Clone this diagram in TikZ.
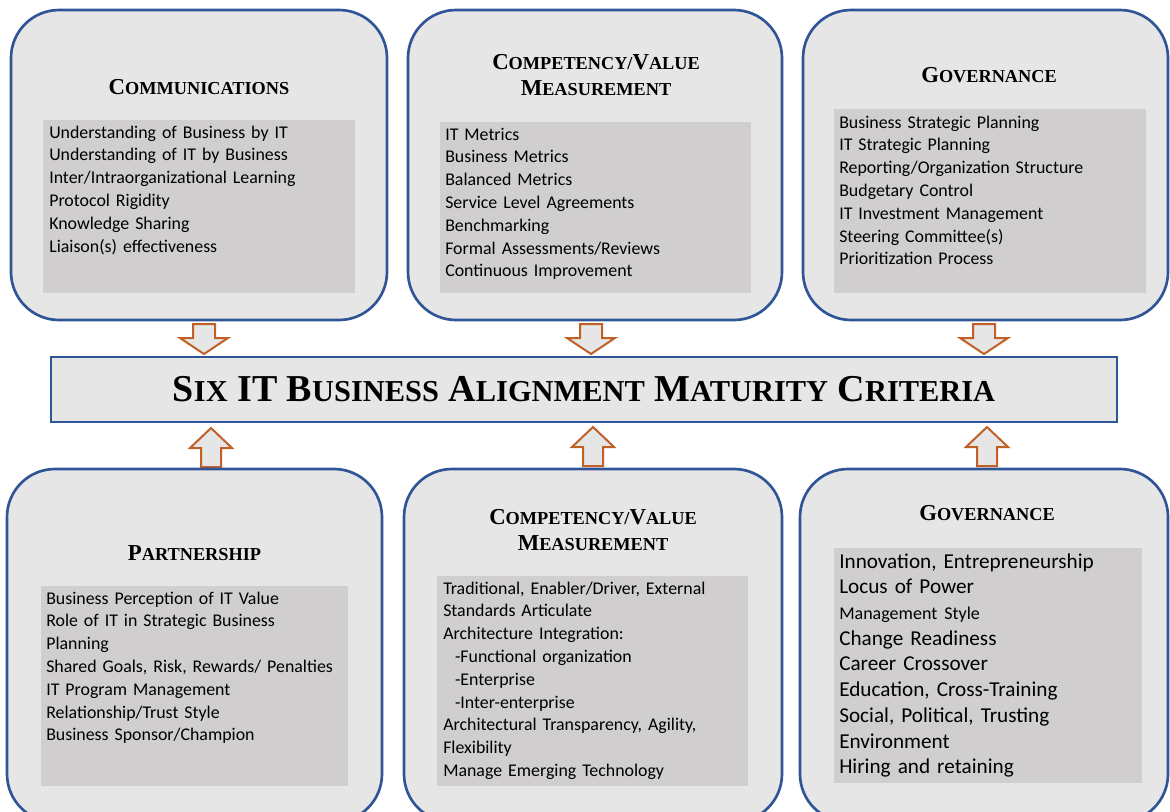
\documentclass[tikz,border=0pt]{standalone}
\usepackage{fontspec}
\setmainfont{Carlito}
\newfontfamily\headfont{Liberation Serif}
\usetikzlibrary{positioning}

\definecolor{panelblue}{RGB}{47,85,151}
\definecolor{panelgray}{RGB}{230,230,230}
\definecolor{listgray}{RGB}{208,206,206}
\definecolor{arrowbrown}{RGB}{192,96,38}

\newcommand{\hdcap}[2]{{\fontsize{17.1}{19.9}\selectfont#1}{\fontsize{13.7}{19.9}\selectfont#2}}
\newcommand{\barcap}[2]{{\fontsize{28.5}{30}\selectfont#1}{\fontsize{22.8}{30}\selectfont#2}}

\begin{document}
\begin{tikzpicture}[x=0.75pt, y=-0.75pt,
  panel/.style={draw=panelblue, fill=panelgray, line width=2pt, rounded corners=36pt},
  listbg/.style={fill=listgray},
  heading/.style={font=\headfont\bfseries\fontsize{17.1}{19.9}\selectfont, text width=280pt, align=center, anchor=base, inner sep=0pt},
  items/.style={font=\fontsize{13.4}{17.1}\selectfont, text width=270pt, align=left, anchor=base west, inner sep=0pt},
  bigitems/.style={font=\fontsize{15.9}{19.3}\selectfont, text width=270pt, align=left, anchor=base west, inner sep=0pt},
  mainbar/.style={draw=panelblue, fill=panelgray, line width=2pt, minimum width=799.5pt, minimum height=48.75pt, inner sep=0pt, font=\headfont\bfseries\fontsize{28.5}{30}\selectfont},
  blockarr/.style={draw=arrowbrown, fill=panelgray, line width=1.5pt},
  pics/downarr/.style={code={\draw[blockarr] (-11,0) -- (11,0) -- (11,14) -- (24,14) -- (0,30) -- (-24,14) -- (-11,14) -- cycle;}},
  pics/uparr/.style={code={\draw[blockarr] (-10,0) -- (10,0) -- (10,-19) -- (21,-19) -- (0,-39) -- (-21,-19) -- (-10,-19) -- cycle;}}]
\useasboundingbox (0,0) rectangle (1170,811);

\draw[panel] (11,10) rectangle (387,320);
\draw[panel] (408,10) rectangle (782,320);
\draw[panel] (803,10) rectangle (1168,320);
\fill[listbg] (43,120) rectangle (355,293);
\fill[listbg] (440,122) rectangle (751,293);
\fill[listbg] (834,109) rectangle (1146,293);

\node[heading] (commhead) at (199,94) {\hdcap{C}{OMMUNICATIONS}};
\node[heading] (comphead) at (596,69) {\hdcap{C}{OMPETENCY/}\hdcap{V}{ALUE}\\\hdcap{M}{EASUREMENT}};
\node[heading] (govhead) at (989,82) {\hdcap{G}{OVERNANCE}};

\node[items] (commlist) at (49,138) {Understanding of Business by IT\\Understanding of IT by Business\\Inter/Intraorganizational Learning\\Protocol Rigidity\\Knowledge Sharing\\Liaison(s) effectiveness};
\node[items] (complist) at (445,140) {IT Metrics\\Business Metrics\\Balanced Metrics\\Service Level Agreements\\Benchmarking\\Formal Assessments/Reviews\\Continuous Improvement};
\node[items] (govlist) at (839,128) {Business Strategic Planning\\IT Strategic Planning\\Reporting/Organization Structure\\Budgetary Control\\IT Investment Management\\Steering Committee(s)\\Prioritization Process};

\pic at (204,324) {downarr};
\pic at (591,324) {downarr};
\pic at (984,324) {downarr};

\node[mainbar] (criteria) at (584,389.5) {\barcap{S}{IX} \barcap{IT}{} \barcap{B}{USINESS} \barcap{A}{LIGNMENT} \barcap{M}{ATURITY} \barcap{C}{RITERIA}};

\pic at (211,467) {uparr};
\pic at (593,466) {uparr};
\pic at (987,466) {uparr};

\draw[panel] (7,469) rectangle (382,822);
\draw[panel] (404,469) rectangle (782,822);
\draw[panel] (800,469) rectangle (1168,822);
\fill[listbg] (41,586) rectangle (348,786);
\fill[listbg] (437,576) rectangle (748,786);
\fill[listbg] (834,548) rectangle (1142,783);

\node[heading] (parthead) at (194.5,560) {\hdcap{P}{ARTNERSHIP}};
\node[heading] (comphead2) at (593,524) {\hdcap{C}{OMPETENCY/}\hdcap{V}{ALUE}\\\hdcap{M}{EASUREMENT}};
\node[heading] (govhead2) at (987,520) {\hdcap{G}{OVERNANCE}};

\node[items] (partlist) at (46,604) {Business Perception of IT Value\\Role of IT in Strategic Business\\Planning\\Shared Goals, Risk, Rewards/ Penalties\\IT Program Management\\Relationship/Trust Style\\Business Sponsor/Champion};
\node[items] (complist2) at (443,594) {Traditional, Enabler/Driver, External\\Standards Articulate\\Architecture Integration:\\\hspace*{8.8pt}-Functional organization\\\hspace*{8.8pt}-Enterprise\\\hspace*{8.8pt}-Inter-enterprise\\Architectural Transparency, Agility,\\Flexibility\\Manage Emerging Technology};
\node[bigitems] (govlist2) at (839,568) {Innovation, Entrepreneurship\\Locus of Power\\{\fontsize{13.5}{19.3}\selectfont Management Style}\\Change Readiness\\Career Crossover\\Education, Cross-Training\\Social, Political, Trusting\\Environment\\Hiring and retaining};
\end{tikzpicture}
\end{document}
